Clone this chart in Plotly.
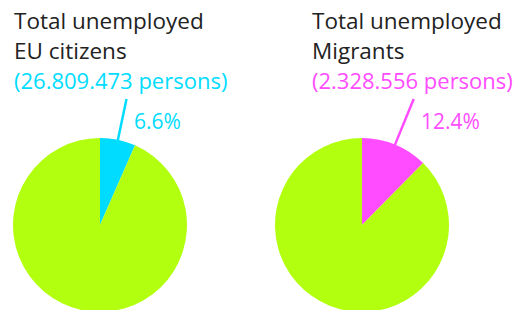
import math
import plotly.graph_objects as go

W, H = 519, 312

groups = ["EU citizens", "Migrants"]
title_line1 = ["Total unemployed", "Total unemployed"]
title_line2 = ["EU citizens", "Migrants"]
persons = ["(26.809.473 persons)", "(2.328.556 persons)"]
share_pct = [6.6, 12.4]
pct_labels = ["6.6%", "12.4%"]
slice_names = ["Unemployed", "Other"]

accent = ["#00dcff", "#ff4cff"]
base_color = "#b2ff0f"
text_dark = "#222222"
FONT = "Open Sans"

# layout in window pixels
centers_x = [100, 362]
center_y = 225
R = 87
title_x = [12, 310]
LINE_TOP_Y = 99
LABEL_Y = 121

fig = go.Figure()
annotations = []
shapes = []

def px(x):
    return x / W

def py(y):
    return min(1, max(0, 1 - y / H))

for i in range(2):
    cx = centers_x[i]
    fig.add_trace(go.Pie(
        labels=slice_names,
        values=[share_pct[i], 100 - share_pct[i]],
        marker=dict(colors=[accent[i], base_color], line=dict(width=0)),
        sort=False,
        direction="clockwise",
        rotation=0,
        textinfo="none",
        hoverinfo="label+percent",
        showlegend=False,
        domain=dict(x=[px(cx - R), px(cx + R)], y=[py(center_y + R), py(center_y - R)]),
    ))
    # leader line from slice middle outward to the label level
    ang = math.radians(share_pct[i] / 100 * 360 / 2)
    r0 = R - 2
    r1 = (center_y - LINE_TOP_Y) / math.cos(ang)
    x0, y0 = cx + r0 * math.sin(ang), center_y - r0 * math.cos(ang)
    x1, y1 = cx + r1 * math.sin(ang), center_y - r1 * math.cos(ang)
    shapes.append(dict(type="line", xref="paper", yref="paper",
                       x0=px(x0), y0=py(y0), x1=px(x1), y1=py(y1),
                       line=dict(color=accent[i], width=2.5)))
    annotations.append(dict(text=pct_labels[i], x=px(x1 + 5), y=py(LABEL_Y),
                            xref="paper", yref="paper", xanchor="left", yanchor="middle",
                            showarrow=False,
                            font=dict(family=FONT, size=21, color=accent[i])))
    # titles
    for line, yc, col, fs in [(title_line1[i], 20, text_dark, 22.5),
                              (title_line2[i], 51, text_dark, 22.5),
                              (persons[i], 80, accent[i], 22)]:
        annotations.append(dict(text=line, x=px(title_x[i]), y=py(yc),
                                xref="paper", yref="paper", xanchor="left", yanchor="middle",
                                showarrow=False,
                                font=dict(family=FONT, size=fs, color=col)))

fig.update_layout(
    width=W, height=H,
    margin=dict(l=0, r=0, t=0, b=0),
    paper_bgcolor="white", plot_bgcolor="white",
    annotations=annotations, shapes=shapes,
)

fig.write_html("out.html", config={"displayModeBar": False},
               post_script="document.body.style.margin='0';")
